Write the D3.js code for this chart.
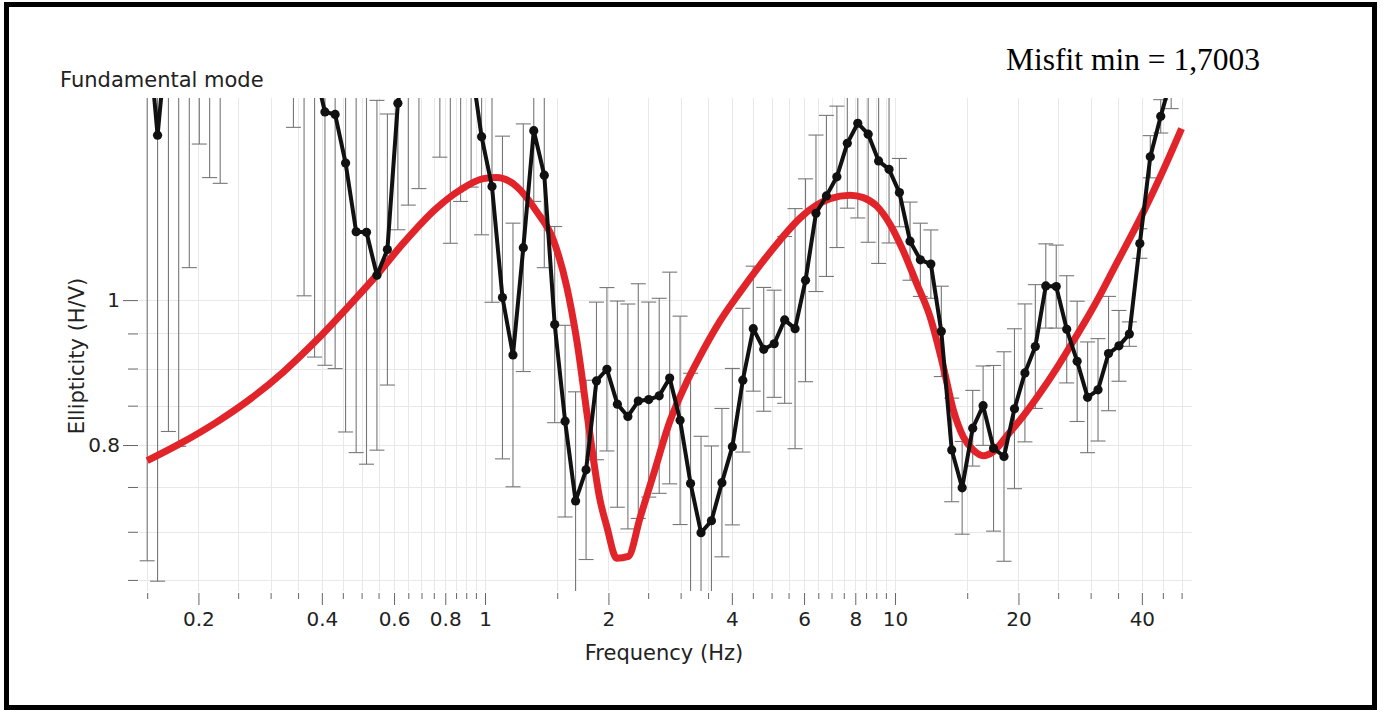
<!DOCTYPE html>
<html>
<head>
<meta charset="utf-8">
<script src="https://cdn.jsdelivr.net/npm/d3@7"></script>
<style>
    body { margin: 0; background: #fff; }
    svg text { font-family: "DejaVu Sans", sans-serif; }
</style>
</head>
<body>
<svg id="chart" width="1383" height="710"></svg>
<script>
// measured curve: 100 log-spaced samples, ellipticity and its std factor
var freqs = [
    0.150, 0.159, 0.169, 0.179, 0.190, 0.201, 0.213, 0.226, 0.240, 0.254,
    0.270, 0.286, 0.303, 0.322, 0.341, 0.362, 0.384, 0.407, 0.431, 0.457,
    0.485, 0.514, 0.545, 0.578, 0.613, 0.650, 0.690, 0.731, 0.776, 0.823,
    0.872, 0.925, 0.981, 1.040, 1.103, 1.170, 1.240, 1.315, 1.395, 1.479,
    1.568, 1.663, 1.764, 1.870, 1.983, 2.103, 2.231, 2.365, 2.508, 2.660,
    2.821, 2.991, 3.172, 3.364, 3.567, 3.783, 4.011, 4.254, 4.511, 4.784,
    5.073, 5.380, 5.705, 6.050, 6.415, 6.803, 7.214, 7.650, 8.113, 8.601,
    9.120, 9.670, 10.25, 10.88, 11.53, 12.23, 12.97, 13.75, 14.58, 15.47,
    16.40, 17.39, 18.44, 19.56, 20.74, 21.99, 23.32, 24.73, 26.23, 27.81,
    29.49, 31.27, 33.17, 35.17, 37.29, 39.55, 41.94, 44.47, 47.16, 50.00
];
var ellipticity = [
    1.541, 1.289, 1.539, 1.600, 1.620, 1.620, 1.600, 1.580, 1.650, 1.700,
    1.720, 1.700, 1.650, 1.600, 1.580, 1.520, 1.429, 1.336, 1.331, 1.235,
    1.111, 1.110, 1.039, 1.081, 1.354, 1.492, 1.515, 1.550, 1.539, 1.492,
    1.469, 1.440, 1.286, 1.191, 1.004, 0.919, 1.084, 1.298, 1.212, 0.963,
    0.830, 0.734, 0.770, 0.883, 0.899, 0.852, 0.836, 0.856, 0.858, 0.863,
    0.887, 0.831, 0.754, 0.699, 0.712, 0.755, 0.798, 0.884, 0.957, 0.927,
    0.935, 0.970, 0.957, 1.031, 1.143, 1.174, 1.209, 1.273, 1.313, 1.291,
    1.239, 1.223, 1.180, 1.095, 1.064, 1.057, 0.953, 0.794, 0.749, 0.821,
    0.850, 0.796, 0.786, 0.846, 0.894, 0.931, 1.022, 1.021, 0.956, 0.910,
    0.861, 0.871, 0.921, 0.932, 0.949, 1.091, 1.247, 1.327, 1.406, 1.500
];
var stdFactor = [
    2.302, 1.987, 1.884, 2.004, 1.541, 1.274, 1.325, 1.320, 1.080, 1.080,
    1.080, 1.080, 1.080, 1.080, 1.211, 1.510, 1.560, 1.477, 1.479, 1.513,
    1.405, 1.429, 1.309, 1.232, 1.215, 1.289, 1.276, 1.100, 1.235, 1.367,
    1.262, 1.210, 1.163, 1.195, 1.282, 1.225, 1.210, 1.115, 1.153, 1.163,
    1.159, 1.183, 1.148, 1.129, 1.134, 1.172, 1.189, 1.198, 1.162, 1.162,
    1.177, 1.174, 1.185, 1.160, 1.122, 1.121, 1.128, 1.117, 1.101, 1.100,
    1.086, 1.137, 1.203, 1.169, 1.128, 1.132, 1.115, 1.105, 1.157, 1.181,
    1.171, 1.120, 1.054, 1.062, 1.058, 1.054, 1.072, 1.083, 1.074, 1.060,
    1.063, 1.136, 1.175, 1.131, 1.112, 1.100, 1.067, 1.066, 1.086, 1.097,
    1.089, 1.082, 1.092, 1.056, 1.019, 1.023, 1.033, 1.026, 1.047, 1.030
];

// best model (red)
var modelFreqs = [
    0.150, 0.1804, 0.2216, 0.2673, 0.3221, 0.3886, 0.4774, 0.5443, 0.6321, 0.7622,
    0.8689, 0.9905, 1.068, 1.195, 1.337, 1.468, 1.582, 1.674, 1.787, 1.908,
    1.981, 2.095, 2.237, 2.388, 2.573, 2.826, 3.104, 3.345, 3.742, 4.188,
    4.686, 5.243, 5.865, 6.442, 6.942, 7.768, 8.368, 9.026, 9.723, 10.48,
    11.29, 12.17, 13.12, 13.88, 14.68, 15.52, 16.42, 17.37, 18.73, 20.56,
    22.58, 24.80, 27.22, 29.90, 31.62, 34.73, 37.63, 40.33, 45.12, 50.00
];
var modelEll = [
    0.781, 0.8017, 0.8288, 0.8586, 0.8952, 0.9403, 0.9985, 1.0392, 1.0916, 1.1521,
    1.1845, 1.2057, 1.2079, 1.191, 1.146, 1.097, 1.021, 0.940, 0.827, 0.735,
    0.706, 0.672, 0.674, 0.7151, 0.7639, 0.8301, 0.8815, 0.9174, 0.9682, 1.0124,
    1.0553, 1.0967, 1.1346, 1.1575, 1.1691, 1.1754, 1.1709, 1.1557, 1.1240, 1.0783,
    1.026, 0.975, 0.902, 0.844, 0.810, 0.794, 0.787, 0.792, 0.8112, 0.8367,
    0.8666, 0.9006, 0.9389, 0.9802, 1.0077, 1.0586, 1.1034, 1.1451, 1.2216, 1.3023
];

var freqMajorTicks = [0.2, 0.4, 0.6, 0.8, 1, 2, 4, 6, 8, 10, 20, 40];
var freqMajorLabels = ["0.2", "0.4", "0.6", "0.8", "1", "2", "4", "6", "8", "10", "20", "40"];
var freqMinorTicks = [
    0.15, 0.25, 0.3, 0.35, 0.45, 0.5, 0.55, 0.65, 0.7, 0.75, 0.85, 0.9, 0.95,
    1.5, 2.5, 3, 3.5, 4.5, 5, 5.5, 6.5, 7, 7.5, 8.5, 9, 9.5,
    15, 25, 30, 35, 45, 50
];
var ellMajorTicks = [0.8, 1];
var ellMajorLabels = ["0.8", "1"];
var ellMinorTicks = [0.65, 0.7, 0.75, 0.85, 0.9, 0.95];

var svg = d3.select("#chart");
var x = d3.scaleLog().domain([0.15, 50]).range([147.2, 1181.6]);
var y = d3.scaleLog().domain([0.639, 1.365]).range([591, 98]);

// grid
var grid = svg.append("g").attr("stroke", "#e8e8e8").attr("stroke-width", 1);
grid.selectAll("line.v").data(freqMajorTicks.concat(freqMinorTicks)).enter().append("line")
    .attr("class", "v")
    .attr("x1", function (d) { return Math.round(x(d)) + 0.5; })
    .attr("x2", function (d) { return Math.round(x(d)) + 0.5; })
    .attr("y1", 98).attr("y2", 591);
grid.selectAll("line.h").data(ellMajorTicks.concat(ellMinorTicks)).enter().append("line")
    .attr("class", "h")
    .attr("x1", 139).attr("x2", 1192)
    .attr("y1", function (d) { return Math.round(y(d)) + 0.5; })
    .attr("y2", function (d) { return Math.round(y(d)) + 0.5; });

svg.append("clipPath").attr("id", "plotClip")
    .append("rect").attr("x", 139).attr("y", 98).attr("width", 1053).attr("height", 493);

var plot = svg.append("g").attr("clip-path", "url(#plotClip)");

var points = freqs.map(function (f, i) {
    return { f: f, v: ellipticity[i], s: stdFactor[i] };
});

// error bars
var bars = plot.append("g").attr("stroke", "#777").attr("stroke-width", 1.1);
bars.selectAll("line.bar").data(points).enter().append("line")
    .attr("class", "bar")
    .attr("x1", function (d) { return x(d.f); })
    .attr("x2", function (d) { return x(d.f); })
    .attr("y1", function (d) { return y(d.v * d.s); })
    .attr("y2", function (d) { return y(d.v / d.s); });
bars.selectAll("line.capTop").data(points).enter().append("line")
    .attr("class", "capTop")
    .attr("x1", function (d) { return x(d.f) - 7.5; })
    .attr("x2", function (d) { return x(d.f) + 7.5; })
    .attr("y1", function (d) { return y(d.v * d.s); })
    .attr("y2", function (d) { return y(d.v * d.s); });
bars.selectAll("line.capBot").data(points).enter().append("line")
    .attr("class", "capBot")
    .attr("x1", function (d) { return x(d.f) - 7.5; })
    .attr("x2", function (d) { return x(d.f) + 7.5; })
    .attr("y1", function (d) { return y(d.v / d.s); })
    .attr("y2", function (d) { return y(d.v / d.s); });

// model curve
var model = modelFreqs.map(function (f, i) { return { f: f, v: modelEll[i] }; });
plot.append("path").datum(model)
    .attr("fill", "none")
    .attr("stroke", "#e1242a")
    .attr("stroke-width", 7)
    .attr("d", d3.line()
        .x(function (d) { return x(d.f); })
        .y(function (d) { return y(d.v); })
        .curve(d3.curveMonotoneX));

// measured curve
plot.append("path").datum(points)
    .attr("fill", "none")
    .attr("stroke", "#111")
    .attr("stroke-width", 4)
    .attr("stroke-linejoin", "round")
    .attr("d", d3.line()
        .x(function (d) { return x(d.f); })
        .y(function (d) { return y(d.v); }));
plot.append("g").selectAll("circle").data(points).enter().append("circle")
    .attr("cx", function (d) { return x(d.f); })
    .attr("cy", function (d) { return y(d.v); })
    .attr("r", 4.6)
    .attr("fill", "#111");

// axes
function styleAxis(g) {
    g.select(".domain").remove();
    g.attr("font-family", "DejaVu Sans").attr("font-size", 20);
    g.selectAll(".tick line").attr("stroke", "#666");
    g.selectAll(".tick text").attr("fill", "#222");
}

svg.append("g").attr("transform", "translate(0,593)")
    .call(d3.axisBottom(x).tickValues(freqMinorTicks).tickSize(6).tickFormat(""))
    .call(styleAxis);
svg.append("g").attr("transform", "translate(0,593)")
    .call(d3.axisBottom(x).tickValues(freqMajorTicks).tickSize(12).tickPadding(7)
        .tickFormat(function (d, i) { return freqMajorLabels[i]; }))
    .call(styleAxis);

svg.append("g").attr("transform", "translate(138,0)")
    .call(d3.axisLeft(y).tickValues(ellMinorTicks).tickSize(10).tickFormat(""))
    .call(styleAxis);
svg.append("g").attr("transform", "translate(138,0)")
    .call(d3.axisLeft(y).tickValues(ellMajorTicks).tickSize(15).tickPadding(3)
        .tickFormat(function (d, i) { return ellMajorLabels[i]; }))
    .call(styleAxis);

// titles
svg.append("text")
    .attr("x", 664).attr("y", 660)
    .attr("text-anchor", "middle")
    .attr("font-size", "21px")
    .attr("fill", "#222")
    .text("Frequency (Hz)");
svg.append("text")
    .attr("transform", "translate(84,356) rotate(-90)")
    .attr("text-anchor", "middle")
    .attr("font-size", "21px")
    .attr("fill", "#222")
    .text("Ellipticity (H/V)");
svg.append("text")
    .attr("x", 60).attr("y", 87)
    .attr("font-size", "21px")
    .attr("fill", "#222")
    .text("Fundamental mode");
svg.append("text")
    .attr("x", 1006).attr("y", 70)
    .attr("font-size", "31.5px")
    .style("font-family", "'Liberation Serif', 'Times New Roman', serif")
    .attr("fill", "#000")
    .text("Misfit min = 1,7003");

// frame
svg.append("rect")
    .attr("x", 6.5).attr("y", 4.5)
    .attr("width", 1368).attr("height", 703)
    .attr("fill", "none")
    .attr("stroke", "#000")
    .attr("stroke-width", 5);
</script>
</body>
</html>
